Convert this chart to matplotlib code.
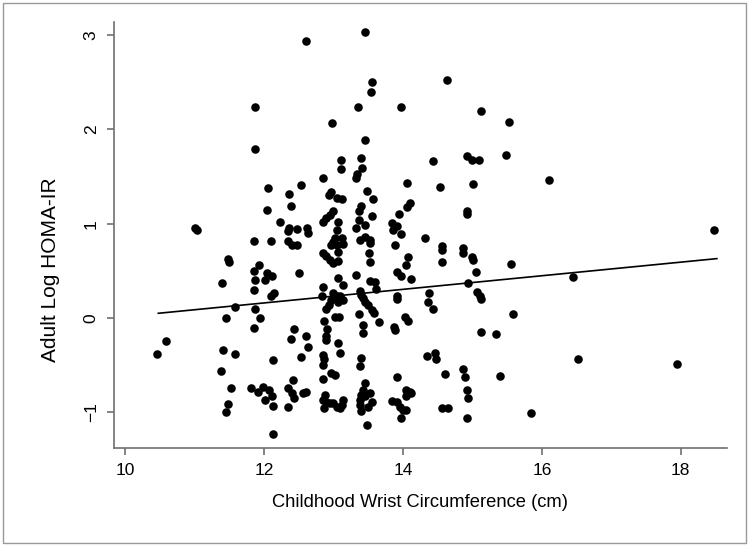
import numpy as np
import matplotlib.pyplot as plt
from matplotlib.patches import Rectangle

plt.rcParams['font.family'] = ['Liberation Sans', 'DejaVu Sans']

# Childhood wrist circumference (cm) and adult log HOMA-IR
wrist = [
    12.60, 11.87, 11.87, 12.06, 12.53, 12.36, 12.39, 12.05, 12.23, 12.36,
    12.34, 12.48, 12.62, 12.64, 11.01, 11.03, 11.86, 12.10, 12.35,
    12.40, 12.47, 11.49, 11.50, 11.93, 11.85, 12.05, 12.11, 12.51, 11.87,
    12.01, 11.39, 11.85, 12.14, 12.10, 11.58, 11.87, 11.45, 11.94, 11.85,
    12.44, 12.39, 12.60, 12.64, 10.59, 10.46, 11.41, 11.58, 12.13, 12.53,
    11.38, 11.53, 11.82, 11.92, 11.99, 12.07, 12.01, 12.11, 12.13, 12.42,
    12.35, 12.40, 12.44, 12.35, 12.56, 12.61, 11.49, 11.46, 12.13,
    13.46, 13.55, 13.54, 14.63, 13.35, 13.98, 15.12, 12.98, 13.46, 13.40,
    13.11, 13.11, 13.41, 13.34, 13.32, 14.44, 14.92, 14.99, 15.10, 12.85,
    14.06, 14.53, 15.01, 13.49, 12.93, 12.97, 13.05, 13.13, 13.57, 14.10,
    14.06, 13.40, 13.37, 13.55, 13.94, 14.92, 14.92, 13.00, 12.95, 12.89,
    12.85, 13.06, 13.37, 13.45, 13.32, 13.05, 13.84, 13.91, 13.86, 13.97,
    14.32, 13.02, 13.12, 13.45, 13.53,
    13.00, 13.14, 12.97, 13.05, 13.38, 13.53, 13.89, 14.57, 14.56, 14.56,
    14.87, 14.86, 14.99, 15.01, 12.85, 12.90, 12.95, 13.00, 13.07, 13.06,
    13.51, 13.53, 14.07, 14.05, 13.91, 13.98, 13.33, 15.05, 13.07, 13.53,
    13.60, 13.62, 14.11, 12.85, 13.14, 14.94, 13.38, 13.40, 13.43, 13.45,
    13.00, 13.05, 13.09, 13.14, 13.07, 12.97, 12.93, 12.84, 12.90, 13.50,
    13.55, 13.58, 13.92, 13.91, 14.38, 14.36, 14.43, 15.06, 15.11, 15.13,
    13.02, 13.08, 13.37, 13.65, 14.03, 14.07, 12.86, 13.43, 13.43, 13.87,
    13.88, 12.91, 12.89, 12.90, 13.07, 13.09, 15.13, 15.34, 12.85, 12.86,
    12.85, 13.40, 13.38, 14.35, 14.46, 14.48, 12.85, 12.97, 13.02, 13.45,
    13.92, 14.61, 14.87, 14.90, 15.40, 12.88, 12.85, 12.90, 12.86, 12.95,
    13.00, 13.05, 13.09, 13.14, 13.12, 13.43, 13.40, 13.38, 13.45, 13.53,
    13.55, 13.50, 13.40, 13.38, 13.48, 13.84, 13.91, 13.96, 14.00, 14.05,
    13.98, 14.05, 14.10, 14.12, 14.05, 14.57, 14.65, 14.92, 14.94, 14.92,
    15.53, 15.49, 16.10, 15.56, 16.45, 15.59, 16.52, 15.84, 17.94, 18.48,
]
homa = [
    2.94, 2.24, 1.79, 1.38, 1.41, 1.32, 1.19, 1.15, 1.02, 0.96,
    0.92, 0.94, 0.95, 0.90, 0.96, 0.93, 0.82, 0.82, 0.82,
    0.77, 0.77, 0.63, 0.59, 0.56, 0.50, 0.48, 0.45, 0.48, 0.40,
    0.40, 0.37, 0.30, 0.26, 0.23, 0.12, 0.10, 0.00, 0.00, -0.11,
    -0.12, -0.22, -0.19, -0.31, -0.24, -0.38, -0.34, -0.38, -0.45, -0.41,
    -0.56, -0.74, -0.74, -0.79, -0.73, -0.76, -0.87, -0.83, -0.93, -0.66,
    -0.74, -0.80, -0.85, -0.94, -0.80, -0.78, -0.91, -1.00, -1.23,
    3.03, 2.50, 2.40, 2.52, 2.24, 2.24, 2.20, 2.07, 1.89, 1.70,
    1.68, 1.58, 1.59, 1.53, 1.49, 1.67, 1.72, 1.68, 1.68, 1.48,
    1.43, 1.39, 1.42, 1.35, 1.31, 1.34, 1.27, 1.26, 1.26, 1.22,
    1.18, 1.19, 1.13, 1.08, 1.10, 1.13, 1.10, 1.13, 1.09, 1.06,
    1.02, 1.02, 1.04, 0.99, 0.95, 0.93, 1.01, 0.98, 0.93, 0.89,
    0.85, 0.85, 0.85, 0.86, 0.83,
    0.81, 0.79, 0.77, 0.77, 0.83, 0.80, 0.77, 0.76, 0.72, 0.59,
    0.74, 0.69, 0.65, 0.62, 0.69, 0.66, 0.62, 0.58, 0.60, 0.70,
    0.69, 0.59, 0.65, 0.56, 0.49, 0.45, 0.46, 0.49, 0.42, 0.39,
    0.38, 0.31, 0.41, 0.33, 0.35, 0.37, 0.29, 0.24, 0.21, 0.17,
    0.26, 0.23, 0.23, 0.19, 0.17, 0.19, 0.14, 0.23, 0.10, 0.14,
    0.08, 0.05, 0.23, 0.20, 0.26, 0.17, 0.10, 0.28, 0.23, 0.20,
    0.01, 0.01, 0.04, -0.04, 0.01, -0.03, -0.03, -0.07, -0.16, -0.10,
    -0.13, -0.12, -0.19, -0.23, -0.27, -0.37, -0.15, -0.17, -0.39, -0.43,
    -0.50, -0.42, -0.51, -0.40, -0.37, -0.44, -0.65, -0.58, -0.60, -0.69,
    -0.63, -0.59, -0.54, -0.63, -0.61, -0.82, -0.87, -0.89, -0.96, -0.90,
    -0.90, -0.94, -0.96, -0.87, -0.92, -0.76, -0.82, -0.87, -0.83, -0.80,
    -0.89, -0.94, -0.99, -0.92, -1.14, -0.88, -0.89, -0.94, -0.98, -0.98,
    -1.06, -0.76, -0.78, -0.80, -0.83, -0.96, -0.95, -0.76, -0.85, -1.06,
    2.08, 1.73, 1.46, 0.57, 0.43, 0.04, -0.44, -1.01, -0.49, 0.93,
]

# fitted line end points
fit_x = [10.48, 18.52]
fit_y = [0.05, 0.63]

fig = plt.figure(figsize=(7.5, 5.46), dpi=100)
ax = fig.add_axes([0.152, 0.1795, 0.817, 0.780])

ax.scatter(wrist, homa, s=38, color='black', linewidths=0, zorder=3)
ax.plot(fit_x, fit_y, color='black', linewidth=1.2, zorder=2)

ax.set_xlim(9.842, 18.662)
ax.set_ylim(-1.379, 3.139)
ax.set_xticks([10, 12, 14, 16, 18])
ax.set_yticks([-1, 0, 1, 2, 3])

for side in ['top', 'right']:
    ax.spines[side].set_visible(False)
for side in ['left', 'bottom']:
    ax.spines[side].set_color('#707070')
    ax.spines[side].set_linewidth(1.2)

ax.tick_params(axis='both', direction='out', length=5, width=1.2,
               color='#707070', labelsize=12.5, pad=6)
plt.setp(ax.get_yticklabels(), rotation=90, va='center')

ax.set_xlabel('Childhood Wrist Circumference (cm)', fontsize=13.2, labelpad=11)
ax.set_ylabel('Adult Log HOMA-IR', fontsize=15)
ax.yaxis.set_label_coords(-0.088, 0.418)

fig.patches.append(Rectangle((0.004, 0.005), 0.991, 0.99, transform=fig.transFigure,
                             fill=False, edgecolor='#999999', linewidth=1))

fig.savefig('out.png', dpi=100, facecolor='white')
